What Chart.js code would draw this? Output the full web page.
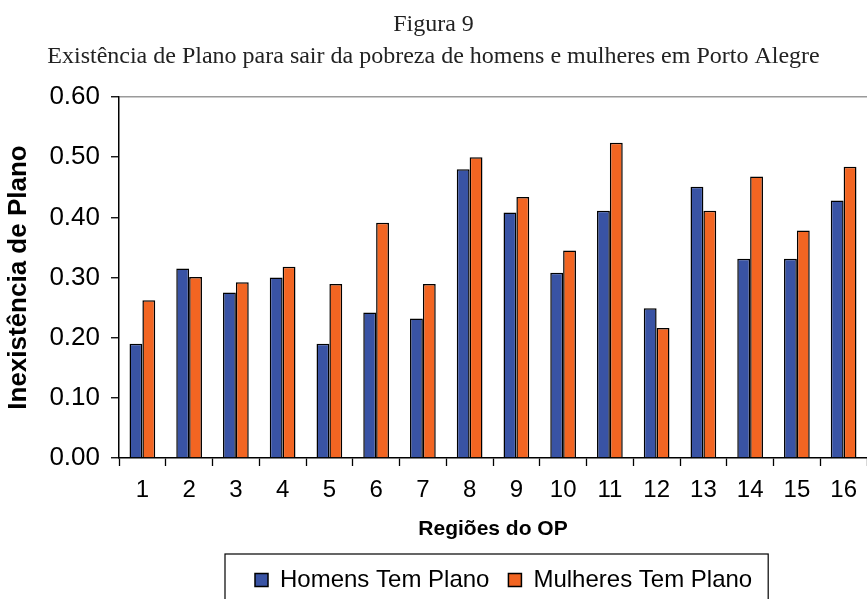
<!DOCTYPE html>
<html>
<head>
<meta charset="utf-8">
<script src="https://cdn.jsdelivr.net/npm/chart.js@4.4.1/dist/chart.umd.min.js"></script>
<style>
  html, body { margin: 0; padding: 0; background: #ffffff; overflow: hidden; }
  #wrap { width: 867px; height: 599px; }
</style>
</head>
<body>
<div id="wrap"><canvas id="c" width="867" height="599"></canvas></div>
<script>
const titleLines = ['Figura 9', 'Existência de Plano para sair da pobreza de homens e mulheres em Porto Alegre'];
const categories = ['1','2','3','4','5','6','7','8','9','10','11','12','13','14','15','16'];
const homensTemPlano = [0.190, 0.315, 0.275, 0.300, 0.190, 0.242, 0.232, 0.480, 0.408, 0.308, 0.411, 0.249, 0.451, 0.331, 0.331, 0.428];
const mulheresTemPlano = [0.262, 0.301, 0.292, 0.318, 0.289, 0.391, 0.289, 0.500, 0.434, 0.345, 0.524, 0.216, 0.411, 0.468, 0.378, 0.484];
const seriesNames = ['Homens Tem Plano', 'Mulheres Tem Plano'];
const yTitle = 'Inexistência de Plano';
const xTitle = 'Regiões do OP';

const SANS = "'Liberation Sans', Arial, sans-serif";
const SERIF = "'Liberation Serif', 'Times New Roman', serif";

// shift legend + draw its frame
const legendFrame = {
  id: 'legendFrame',
  beforeDraw(chart) {
    const lg = chart.legend;
    if (!lg) return;
    const p = lg.options.labels.padding;
    const w = lg.right - lg.left;
    lg.left = 255 - p;
    lg.right = lg.left + w;
    if (!lg._shiftedTop) { lg.top += 3; lg.bottom += 3; lg._shiftedTop = true; }
  },
  afterDraw(chart) {
    const lg = chart.legend;
    if (!lg || !lg.legendHitBoxes) return;
    const p = lg.options.labels.padding;
    let total = 0;
    lg.legendHitBoxes.forEach((h, i) => { total += h.width + (i ? p : 0); });
    const x0 = lg.left + p - 30;
    const x1 = lg.left + p + total + 16;
    const yc = lg.top + p + 12;
    const ctx = chart.ctx;
    ctx.save();
    ctx.strokeStyle = '#000';
    ctx.lineWidth = 1.2;
    ctx.strokeRect(x0, yc - 26, x1 - x0, 80);
    ctx.restore();
  }
};

new Chart(document.getElementById('c'), {
  type: 'bar',
  data: {
    labels: categories,
    datasets: [
      { label: seriesNames[0], data: homensTemPlano, backgroundColor: '#3953a4', borderColor: '#000000', borderWidth: 1.5 },
      { label: seriesNames[1], data: mulheresTemPlano, backgroundColor: '#f26522', borderColor: '#000000', borderWidth: 1.5 }
    ]
  },
  options: {
    responsive: false,
    animation: false,
    devicePixelRatio: 1,
    layout: { padding: { left: 0, right: 0, top: 0, bottom: 0 } },
    datasets: { bar: { categoryPercentage: 0.55, barPercentage: 1.0 } },
    plugins: {
      title: {
        display: true,
        text: titleLines,
        color: '#222',
        font: { family: SERIF, size: 24, weight: 'normal', lineHeight: 32 / 24 },
        padding: { top: 9, bottom: 24 }
      },
      legend: {
        display: true,
        position: 'bottom',
        align: 'start',
        labels: {
          color: '#000',
          font: { family: SANS, size: 24 },
          boxWidth: 13,
          boxHeight: 13,
          padding: 19
        }
      },
      tooltip: { enabled: false }
    },
    scales: {
      x: {
        grid: { display: true, drawOnChartArea: false, drawTicks: true, tickLength: 8, tickColor: '#000', tickWidth: 1.3, offset: true },
        border: { display: true, color: '#000', width: 1.5 },
        ticks: { color: '#000', font: { family: SANS, size: 24 }, padding: 10, maxRotation: 0, autoSkip: false },
        title: { display: true, text: xTitle, color: '#000', font: { family: SANS, size: 21, weight: 'bold' }, padding: { top: 0, bottom: 4 } },
        afterFit(scale) { scale.height = 88; }
      },
      y: {
        min: 0,
        max: 0.6,
        grid: {
          display: true,
          drawOnChartArea: true,
          drawTicks: true,
          tickLength: 8,
          tickColor: '#000',
          tickWidth: 1.3,
          color: (ctx) => (ctx.tick && Math.abs(ctx.tick.value - 0.6) < 1e-9) ? '#9a9a9a' : 'rgba(0,0,0,0)',
          lineWidth: 1.5
        },
        border: { display: true, color: '#000', width: 1.5 },
        ticks: {
          stepSize: 0.1,
          color: '#000',
          font: { family: SANS, size: 26 },
          padding: 11,
          callback: (v) => Number(v).toFixed(2)
        },
        title: { display: true, text: yTitle, color: '#000', font: { family: SANS, size: 26, weight: 'bold' }, padding: { top: 3, bottom: 0 } },
        afterFit(scale) { scale.width = 119; }
      }
    }
  },
  plugins: [legendFrame]
});
</script>
</body>
</html>
